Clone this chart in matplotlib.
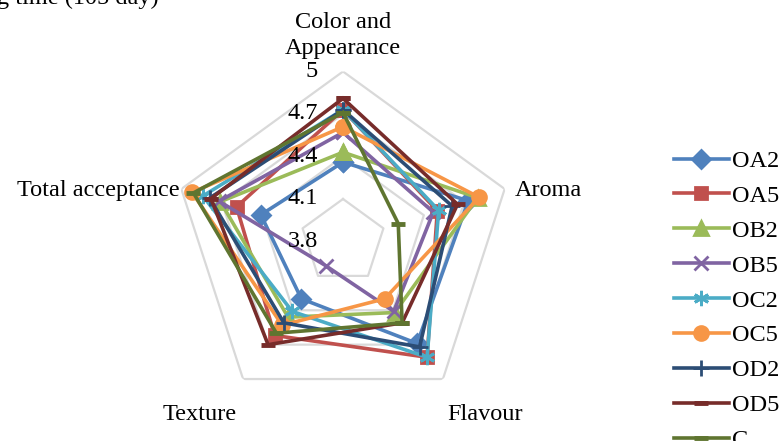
import numpy as np
import matplotlib.pyplot as plt

plt.rcParams['font.family'] = ['Liberation Serif', 'DejaVu Serif']

# sensory scores
categories = ["Color and\nAppearance", "Aroma", "Flavour", "Texture", "Total acceptance"]
ticks = [3.8, 4.1, 4.4, 4.7, 5.0]
tick_labels = ["3.8", "4.1", "4.4", "4.7", "5"]

OA2 = [4.36, 4.73, 4.69, 4.30, 4.41]
OA5 = [4.73, 4.50, 4.81, 4.62, 4.59]
OB2 = [4.43, 4.80, 4.42, 4.46, 4.71]
OB5 = [4.57, 4.47, 4.41, 4.01, 4.72]
OC2 = [4.73, 4.51, 4.81, 4.41, 4.84]
OC5 = [4.61, 4.81, 4.30, 4.53, 4.92]
OD2 = [4.73, 4.61, 4.72, 4.51, 4.79]
OD5 = [4.81, 4.65, 4.51, 4.70, 4.78]
C = [4.71, 4.21, 4.51, 4.60, 4.91]

series = [("OA2", OA2, "#4F81BD", "D", 9),
          ("OA5", OA5, "#C0504D", "s", 9),
          ("OB2", OB2, "#9BBB59", "^", 9.5),
          ("OB5", OB5, "#8064A2", "x", 10),
          ("OC2", OC2, "#4BACC6", (6, 2, 0), 11),
          ("OC5", OC5, "#F79646", "o", 10),
          ("OD2", OD2, "#2C4D75", "+", 11),
          ("OD5", OD5, "#772C2A", "_", 10),
          ("C", C, "#5F7530", "_", 10)]

fs = 17.5

n = len(categories)
theta = np.linspace(0, 2 * np.pi, n, endpoint=False)
theta_c = np.append(theta, theta[0])

fig = plt.figure(figsize=(7.8, 4.41), dpi=100)
ax = fig.add_axes([0.2218, 0.0669, 0.4359, 0.771], projection='polar')
ax.set_theta_offset(np.pi / 2)
ax.set_theta_direction(-1)
ax.set_ylim(3.8, 5.0)
ax.grid(False)
ax.spines['polar'].set_visible(False)
ax.set_xticks([])
ax.set_yticks([])
ax.patch.set_alpha(0)

# pentagon gridlines
for lv in ticks[1:]:
    ax.plot(theta_c, [lv] * (n + 1), color='#D9D9D9', lw=1.6, zorder=1)

handles = []
for name, vals, col, mk, ms in series:
    v = vals + vals[:1]
    mew = 2.0
    if mk == "_":
        mew = 3.5
    h, = ax.plot(theta_c, v, color=col, lw=2.6, marker=mk, markersize=ms,
                 markeredgewidth=mew, markerfacecolor=col, markeredgecolor=col,
                 label=name, zorder=3, clip_on=False)
    handles.append(h)

# radial tick labels on the vertical axis
for t, lab in zip(ticks, tick_labels):
    ax.annotate(lab, xy=(0, t), xytext=(-25, 0), textcoords='offset pixels',
                ha='right', va='center', fontsize=fs)

# category labels
offsets = [(0, 36, 'center', 'center'), (10, -2, 'left', 'center'),
           (42, -35, 'center', 'center'), (-43, -35, 'center', 'center'),
           (-2, -2, 'right', 'center')]
for th, lab, (dx, dy, ha, va) in zip(theta, categories, offsets):
    ax.annotate(lab, xy=(th, 5.0), xytext=(dx, dy), textcoords='offset pixels',
                ha=ha, va=va, fontsize=fs, linespacing=1.32)

fig.text(-0.004, 1 - 4 / 441, "g time (105 day)", ha='left', va='baseline', fontsize=fs)

fig.legend(handles=handles, loc='upper left', bbox_to_anchor=(674 / 780, 1 - 150 / 441),
           frameon=False, fontsize=fs, handlelength=2.26, handletextpad=0.12,
           labelspacing=0.53, borderpad=0, borderaxespad=0, markerscale=1.0)

fig.savefig("out.png", dpi=100)
